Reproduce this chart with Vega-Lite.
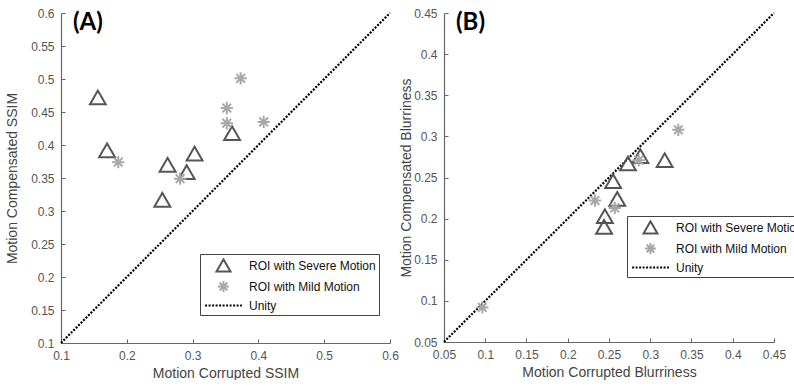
{
  "$schema": "https://vega.github.io/schema/vega-lite/v6.json",
  "padding": {"left": 5, "top": 7, "right": 0, "bottom": 0},
  "background": "white",
  "config": {
    "view": {"stroke": null},
    "font": "Liberation Sans",
    "axis": {"labelFont": "Liberation Sans", "labelFontSize": 12, "labelColor": "#555555", "titleFont": "Liberation Sans", "titleFontSize": 14, "titleFontWeight": "normal", "titleColor": "#444444", "domainColor": "#666666", "tickColor": "#666666", "domainWidth": 1.2, "tickSize": -4, "labelPadding": 11, "grid": false, "labelOverlap": false, "labelFlush": false},
    "title": {"font": "Lato", "fontSize": 24, "fontWeight": "bold", "color": "black", "anchor": "start", "frame": "group", "baseline": "alphabetic", "offset": 0, "dx": 12, "dy": 32},
    "legend": {"strokeColor": "#444444", "fillColor": "white", "padding": 3, "labelFont": "Liberation Sans", "labelFontSize": 12, "labelColor": "#111111", "symbolStrokeWidth": 2, "symbolSize": 200, "rowPadding": 0, "labelOffset": 17, "symbolOffset": 12}
  },
  "datasets": {
    "ssim": [
      {"x": 0.156, "y": 0.472, "series": "ROI with Severe Motion"},
      {"x": 0.170, "y": 0.392, "series": "ROI with Severe Motion"},
      {"x": 0.262, "y": 0.370, "series": "ROI with Severe Motion"},
      {"x": 0.291, "y": 0.359, "series": "ROI with Severe Motion"},
      {"x": 0.303, "y": 0.387, "series": "ROI with Severe Motion"},
      {"x": 0.360, "y": 0.418, "series": "ROI with Severe Motion"},
      {"x": 0.254, "y": 0.317, "series": "ROI with Severe Motion"},
      {"x": 0.187, "y": 0.374, "series": "ROI with Mild Motion"},
      {"x": 0.281, "y": 0.349, "series": "ROI with Mild Motion"},
      {"x": 0.352, "y": 0.456, "series": "ROI with Mild Motion"},
      {"x": 0.352, "y": 0.433, "series": "ROI with Mild Motion"},
      {"x": 0.373, "y": 0.501, "series": "ROI with Mild Motion"},
      {"x": 0.408, "y": 0.435, "series": "ROI with Mild Motion"}
    ],
    "blur": [
      {"x": 0.255, "y": 0.2455, "series": "ROI with Severe Motion"},
      {"x": 0.273, "y": 0.267, "series": "ROI with Severe Motion"},
      {"x": 0.288, "y": 0.276, "series": "ROI with Severe Motion"},
      {"x": 0.3175, "y": 0.271, "series": "ROI with Severe Motion"},
      {"x": 0.260, "y": 0.224, "series": "ROI with Severe Motion"},
      {"x": 0.245, "y": 0.203, "series": "ROI with Severe Motion"},
      {"x": 0.244, "y": 0.190, "series": "ROI with Severe Motion"},
      {"x": 0.334, "y": 0.308, "series": "ROI with Mild Motion"},
      {"x": 0.286, "y": 0.271, "series": "ROI with Mild Motion"},
      {"x": 0.233, "y": 0.222, "series": "ROI with Mild Motion"},
      {"x": 0.257, "y": 0.213, "series": "ROI with Mild Motion"},
      {"x": 0.0965, "y": 0.092, "series": "ROI with Mild Motion"}
    ],
    "unityA": [{"x": 0.1, "y": 0.1}, {"x": 0.6, "y": 0.6}],
    "unityB": [{"x": 0.05, "y": 0.05}, {"x": 0.45, "y": 0.45}]
  },
  "spacing": 0,
  "resolve": {
    "scale": {"color": "independent", "shape": "independent", "strokeDash": "independent"},
    "legend": {"color": "independent", "shape": "independent", "strokeDash": "independent"}
  },
  "hconcat": [
    {
      "width": 329,
      "height": 330,
      "title": {"text": "(A)"},
      "layer": [
        {
          "data": {"name": "unityA"},
          "mark": {"type": "line", "color": "black", "strokeDash": [2, 1.5], "strokeWidth": 2.2},
          "encoding": {
            "x": {"field": "x", "type": "quantitative", "scale": {"domain": [0.1, 0.6], "nice": false}, "axis": {"values": [0.1, 0.2, 0.3, 0.4, 0.5, 0.6], "format": "~g", "title": "Motion Corrupted SSIM", "titlePadding": 5}},
            "y": {"field": "y", "type": "quantitative", "scale": {"domain": [0.1, 0.6], "nice": false}, "axis": {"values": [0.1, 0.15, 0.2, 0.25, 0.3, 0.35, 0.4, 0.45, 0.5, 0.55, 0.6], "format": "~g", "title": "Motion Compensated SSIM", "titlePadding": 11}}
          }
        },
        {
          "data": {"name": "ssim"},
          "mark": {"type": "point", "filled": false, "strokeWidth": 2, "opacity": 1, "size": 250},
          "encoding": {
            "x": {"field": "x", "type": "quantitative", "scale": {"domain": [0.1, 0.6], "nice": false}, "axis": {"values": [0.1, 0.2, 0.3, 0.4, 0.5, 0.6], "format": "~g", "title": "Motion Corrupted SSIM", "titlePadding": 5}},
            "y": {"field": "y", "type": "quantitative", "scale": {"domain": [0.1, 0.6], "nice": false}, "axis": {"values": [0.1, 0.15, 0.2, 0.25, 0.3, 0.35, 0.4, 0.45, 0.5, 0.55, 0.6], "format": "~g", "title": "Motion Compensated SSIM", "titlePadding": 11}},
            "color": {"field": "series", "type": "nominal", "scale": {"domain": ["ROI with Severe Motion", "ROI with Mild Motion", "Unity"], "range": ["#555555", "#a8a8a8", "#000000"]}, "legend": {"title": null, "orient": "none", "legendX": 139, "legendY": 241}},
            "shape": {"field": "series", "type": "nominal", "scale": {"domain": ["ROI with Severe Motion", "ROI with Mild Motion", "Unity"], "range": ["triangle-up", "M-0.78,0L0.78,0M0,-0.78L0,0.78M-0.55,-0.55L0.55,0.55M-0.55,0.55L0.55,-0.55", "M-2.6,0L2.6,0"]}, "legend": {"title": null, "orient": "none", "legendX": 139, "legendY": 241}},
            "strokeDash": {"field": "series", "type": "nominal", "scale": {"domain": ["ROI with Severe Motion", "ROI with Mild Motion", "Unity"], "range": [[1, 0], [1, 0], [2, 1.5]]}, "legend": {"title": null, "orient": "none", "legendX": 139, "legendY": 241}}
          }
        }
      ]
    },
    {
      "width": 330,
      "height": 329,
      "title": {"text": "(B)"},
      "layer": [
        {
          "data": {"name": "unityB"},
          "mark": {"type": "line", "color": "black", "strokeDash": [2, 1.5], "strokeWidth": 2.2},
          "encoding": {
            "x": {"field": "x", "type": "quantitative", "scale": {"domain": [0.05, 0.45], "nice": false}, "axis": {"values": [0.05, 0.1, 0.15, 0.2, 0.25, 0.3, 0.35, 0.4, 0.45], "format": "~g", "title": "Motion Corrupted Blurriness", "titlePadding": 5}},
            "y": {"field": "y", "type": "quantitative", "scale": {"domain": [0.05, 0.45], "nice": false}, "axis": {"values": [0.05, 0.1, 0.15, 0.2, 0.25, 0.3, 0.35, 0.4, 0.45], "format": "~g", "title": "Motion Compensated Blurriness", "titlePadding": 0}}
          }
        },
        {
          "data": {"name": "blur"},
          "mark": {"type": "point", "filled": false, "strokeWidth": 2, "opacity": 1, "size": 250},
          "encoding": {
            "x": {"field": "x", "type": "quantitative", "scale": {"domain": [0.05, 0.45], "nice": false}, "axis": {"values": [0.05, 0.1, 0.15, 0.2, 0.25, 0.3, 0.35, 0.4, 0.45], "format": "~g", "title": "Motion Corrupted Blurriness", "titlePadding": 5}},
            "y": {"field": "y", "type": "quantitative", "scale": {"domain": [0.05, 0.45], "nice": false}, "axis": {"values": [0.05, 0.1, 0.15, 0.2, 0.25, 0.3, 0.35, 0.4, 0.45], "format": "~g", "title": "Motion Compensated Blurriness", "titlePadding": 0}},
            "color": {"field": "series", "type": "nominal", "scale": {"domain": ["ROI with Severe Motion", "ROI with Mild Motion", "Unity"], "range": ["#555555", "#a8a8a8", "#000000"]}, "legend": {"title": null, "orient": "none", "legendX": 183, "legendY": 203}},
            "shape": {"field": "series", "type": "nominal", "scale": {"domain": ["ROI with Severe Motion", "ROI with Mild Motion", "Unity"], "range": ["triangle-up", "M-0.78,0L0.78,0M0,-0.78L0,0.78M-0.55,-0.55L0.55,0.55M-0.55,0.55L0.55,-0.55", "M-2.6,0L2.6,0"]}, "legend": {"title": null, "orient": "none", "legendX": 183, "legendY": 203}},
            "strokeDash": {"field": "series", "type": "nominal", "scale": {"domain": ["ROI with Severe Motion", "ROI with Mild Motion", "Unity"], "range": [[1, 0], [1, 0], [2, 1.5]]}, "legend": {"title": null, "orient": "none", "legendX": 183, "legendY": 203}}
          }
        }
      ]
    }
  ]
}
